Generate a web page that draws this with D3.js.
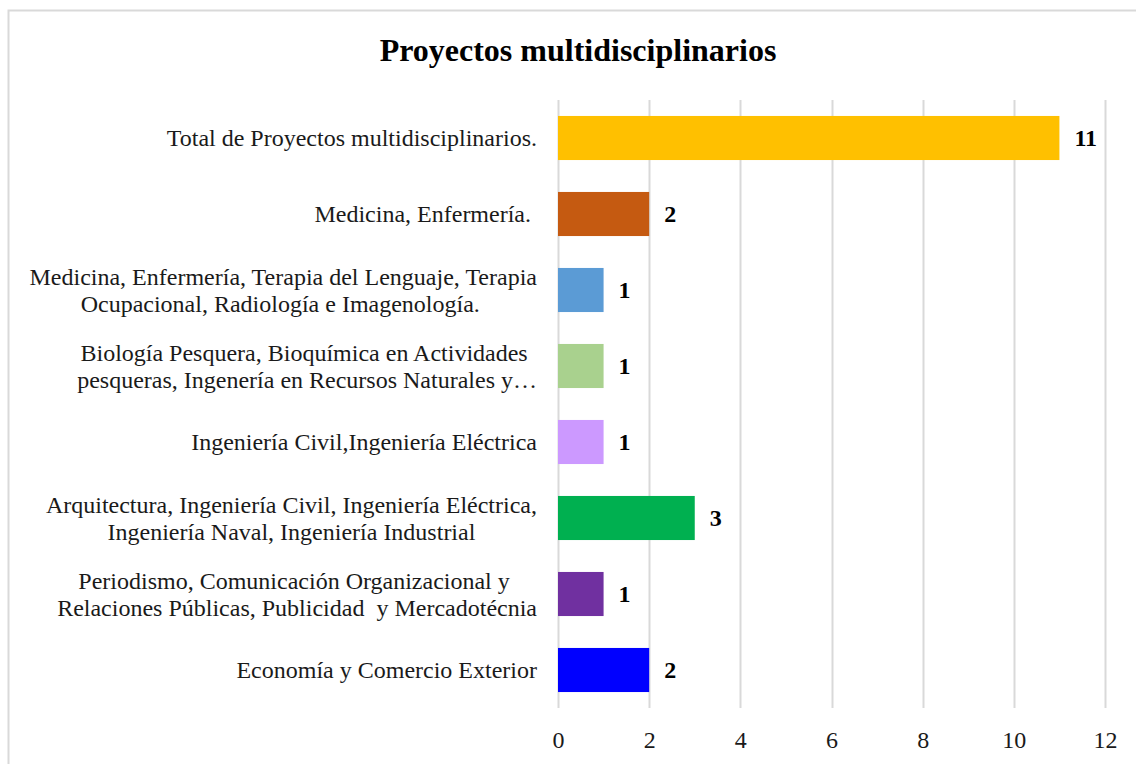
<!DOCTYPE html>
<html>
<head>
<meta charset="utf-8">
<script src="https://cdn.jsdelivr.net/npm/d3@7"></script>
<style>
  html, body { margin: 0; padding: 0; background: #fff; }
  svg { display: block; }
  text { font-family: "Liberation Serif", "Times New Roman", serif; }
</style>
</head>
<body>
<svg id="chart" width="1136" height="764"></svg>
<script>
const title = "Proyectos multidisciplinarios";
const categories = [
  "Total de Proyectos multidisciplinarios.",
  "Medicina, Enfermería. ",
  "Medicina, Enfermería, Terapia del Lenguaje, Terapia\nOcupacional, Radiología e Imagenología. ",
  "Biología Pesquera, Bioquímica en Actividades\n pesqueras, Ingenería en Recursos Naturales y…",
  "Ingeniería Civil,Ingeniería Eléctrica",
  "Arquitectura, Ingeniería Civil, Ingeniería Eléctrica,\nIngeniería Naval, Ingeniería Industrial",
  "Periodismo, Comunicación Organizacional y \nRelaciones Públicas, Publicidad  y Mercadotécnia",
  "Economía y Comercio Exterior"
];
const values = [11, 2, 1, 1, 1, 3, 1, 2];
const colors = ["#FFC000", "#C55A11", "#5B9BD5", "#A9D18E", "#CC99FF", "#00B050", "#7030A0", "#0000FF"];
const xTicks = [0, 2, 4, 6, 8, 10, 12];

(function () {
const svg = d3.select("#chart");
const W = 1136, H = 764;

svg.append("rect")
  .attr("x", 8.5).attr("y", 10.5)
  .attr("width", W + 20).attr("height", H + 20)
  .attr("fill", "#fff").attr("stroke", "#d9d9d9").attr("stroke-width", 2);

const pLeft = 558, pRight = 1105, pTop = 100, pBottom = 708;

const x = d3.scaleLinear().domain([0, 12]).range([pLeft, pRight]);
const y = d3.scaleBand().domain(categories).range([pTop, pBottom])
  .paddingInner(0.42).paddingOuter(0.21);

svg.append("text")
  .attr("x", 578).attr("y", 61)
  .attr("text-anchor", "middle")
  .attr("font-size", 32).attr("font-weight", "bold").attr("fill", "#000")
  .text(title);

svg.append("g").selectAll("line").data(xTicks).join("line")
  .attr("x1", d => Math.round(x(d)) + 0.5).attr("x2", d => Math.round(x(d)) + 0.5)
  .attr("y1", pTop).attr("y2", pBottom)
  .attr("stroke", "#d9d9d9").attr("stroke-width", 2);

const xAxis = d3.axisBottom(x).tickValues(xTicks).tickSize(0).tickPadding(0).tickFormat(d3.format("d"));
const gx = svg.append("g").attr("transform", `translate(0, ${pBottom})`).call(xAxis);
gx.select(".domain").remove();
gx.selectAll("text")
  .attr("font-family", "Liberation Serif, Times New Roman, serif")
  .attr("font-size", 24).attr("fill", "#1a1a1a")
  .attr("y", 40).attr("dy", null);

svg.append("g").selectAll("rect").data(values).join("rect")
  .attr("x", x(0))
  .attr("y", (d, i) => y(categories[i]))
  .attr("width", d => x(d) - x(0))
  .attr("height", y.bandwidth())
  .attr("fill", (d, i) => colors[i]);

svg.append("g").selectAll("text").data(values).join("text")
  .attr("x", d => x(d) + 15)
  .attr("y", (d, i) => y(categories[i]) + y.bandwidth() / 2)
  .attr("dy", "0.35em")
  .attr("font-size", 24).attr("font-weight", "bold").attr("fill", "#000")
  .text(d => d);

const labelRight = 537;
const lineH = 27;
const gl = svg.append("g");
categories.forEach((cat, i) => {
  const lines = cat.split("\n");
  const cy = y(cat) + y.bandwidth() / 2;
  const t = gl.append("text")
    .attr("font-size", 24).attr("fill", "#1a1a1a")
    .style("white-space", "pre");
  const spans = lines.map((ln, k) => t.append("tspan")
    .attr("y", cy + (k - (lines.length - 1) / 2) * lineH)
    .attr("dy", "0.35em")
    .text(ln));
  const widths = spans.map(s => s.node().getComputedTextLength());
  const maxW = d3.max(widths);
  if (lines.length === 1) {
    spans[0].attr("x", labelRight).attr("text-anchor", "end");
  } else {
    const cx = labelRight - maxW / 2;
    spans.forEach(s => s.attr("x", cx).attr("text-anchor", "middle"));
  }
});
})();
</script>
</body>
</html>
